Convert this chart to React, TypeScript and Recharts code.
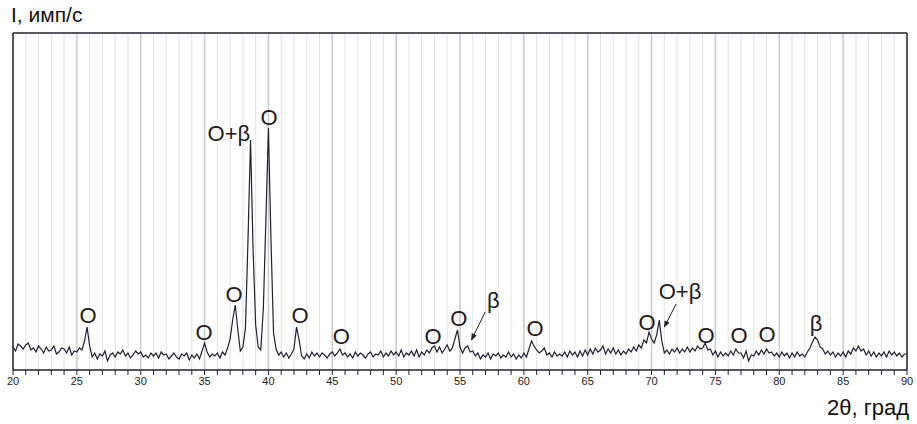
import React from 'react';
import {
  ComposedChart,
  Line,
  Scatter,
  XAxis,
  YAxis,
  CartesianGrid,
  ReferenceLine,
} from 'recharts';

// scan starts at 20° with a 0.2° step
const START_ANGLE = 20;
const STEP = 0.2;

// intensity, one row per degree (x.0, x.2, x.4, x.6, x.8)
const intensity = [
  23, 19, 26, 24, 21,
  25, 27, 20, 22, 18,
  24, 21, 17, 23, 19,
  20, 24, 16, 18, 22,
  21, 17, 23, 15, 19,
  18, 22, 20, 29, 43,
  24, 13, 17, 11, 16,
  14, 19, 9, 15, 17,
  13, 18, 16, 20, 14,
  17, 12, 15, 19, 16,
  18, 13, 15, 12, 17,
  14, 17, 12, 18, 15,
  16, 11, 14, 17, 13,
  11, 16, 14, 17, 10,
  15, 12, 16, 11, 19,
  27, 18, 13, 16, 14,
  17, 12, 18, 15, 22,
  31, 50, 65, 41, 19,
  23, 42, 130, 230, 120,
  45, 23, 20, 61, 150,
  242, 130, 37, 21, 15,
  18, 13, 17, 12, 16,
  21, 43, 30, 14, 11,
  16, 12, 18, 14, 17,
  13, 17, 15, 12, 16,
  18, 14, 17, 21, 15,
  17, 13, 16, 12, 18,
  14, 17, 15, 12, 16,
  18, 13, 16, 15, 19,
  13, 17, 14, 19, 15,
  18, 14, 20, 13, 17,
  15, 19, 14, 20, 13,
  18, 15, 20, 17, 22,
  24, 18, 23, 17, 21,
  25, 19, 22, 31, 40,
  23, 17, 22, 24, 18,
  19, 14, 17, 11, 15,
  13, 17, 11, 16, 14,
  17, 12, 15, 13, 18,
  13, 16, 11, 15, 12,
  17, 13, 21, 29, 24,
  20, 17, 19, 22, 15,
  17, 13, 18, 14, 16,
  14, 18, 13, 19, 15,
  18, 13, 19, 14, 20,
  15, 21, 16, 22, 18,
  20, 24, 16, 21, 17,
  22, 16, 20, 15, 19,
  16, 21, 18, 23, 19,
  25, 22, 30, 27, 38,
  31, 27, 35, 50, 29,
  17, 20, 16, 21, 18,
  22, 17, 21, 18, 23,
  18, 22, 19, 24, 21,
  22, 27, 20, 21, 15,
  19, 13, 18, 14, 17,
  14, 19, 15, 21, 17,
  17, 12, 19, 9, 15,
  14, 19, 15, 20, 16,
  21, 17, 18, 14, 17,
  13, 18, 14, 17, 12,
  17, 13, 18, 14, 16,
  13, 18, 22, 28, 33,
  30, 23, 21, 16, 19,
  15, 18, 13, 17, 14,
  18, 13, 19, 16, 22,
  19, 24, 19, 21, 15,
  19, 14, 18, 13, 17,
  14, 18, 13, 19, 15,
  18, 14, 17, 13, 16,
  16,
];

// phase labels: position (2θ, intensity) and text
const labelAngles = [25.87, 34.96, 37.3, 36.9, 40.05, 42.47, 45.7, 52.9, 54.9, 57.6, 60.88, 69.65, 72.23, 74.27, 76.85, 79.05, 82.88];
const labelHeights = [55, 38, 76, 237, 253, 55, 34, 34, 52, 70, 42, 48, 79, 35, 35, 36, 47];
const labelTexts = ['O', 'O', 'O', 'O+β', 'O', 'O', 'O', 'O', 'O', 'β', 'O', 'O', 'O+β', 'O', 'O', 'O', 'β'];

// arrows pointing at small reflections
const arrows = [
  { from: { x: 56.97, y: 58 }, to: { x: 55.9, y: 30 } },
  { from: { x: 71.92, y: 66 }, to: { x: 71.0, y: 43 } },
];

const xTicks = Array.from({ length: 71 }, (_, i) => 20 + i);
const majorTicks = [25, 30, 35, 40, 45, 50, 55, 60, 65, 70, 75, 80, 85];

const data = intensity.map((v, i) => ({
  angle: +(START_ANGLE + i * STEP).toFixed(1),
  counts: v,
}));

const labels = labelAngles.map((a, i) => ({ angle: a, counts: labelHeights[i], text: labelTexts[i] }));

const FONT = '"Liberation Sans", Arial, sans-serif';
const INK = '#231f35';

const PhaseLabel = (props: any) => {
  const { cx, cy, payload } = props;
  return (
    <text x={cx} y={cy} textAnchor="middle" dominantBaseline="central" fontFamily={FONT} fontSize={22} fill="#241a1a">
      {payload.text}
    </text>
  );
};

export default function App() {
  return (
    <div style={{ position: 'absolute', left: 0, top: 0, width: 917, height: 424, background: '#fff' }}>
      <svg width={0} height={0} style={{ position: 'absolute' }}>
        <defs>
          <marker id="arrowHead" viewBox="0 0 10 10" refX="9" refY="5" markerWidth="7" markerHeight="7" orient="auto">
            <path d="M0,1 L10,5 L0,9 z" fill="#222" />
          </marker>
        </defs>
      </svg>
      <div style={{ position: 'absolute', left: 11, top: 3, fontFamily: FONT, fontSize: 21, color: '#111' }}>
        I, имп/с
      </div>
      <div style={{ position: 'absolute', left: 827, top: 395, fontFamily: FONT, fontSize: 22, color: '#111' }}>
        2θ, град
      </div>
      <ComposedChart width={917} height={424} data={data} margin={{ top: 33, right: 10, bottom: 24, left: 13 }}>
        <CartesianGrid horizontal={false} stroke="#e2e2e2" strokeWidth={1} />
        {majorTicks.map((t) => (
          <ReferenceLine key={t} x={t} stroke="#cdcdcd" strokeWidth={1.5} />
        ))}
        <XAxis
          dataKey="angle"
          type="number"
          domain={[20, 90]}
          ticks={xTicks}
          interval={0}
          tickSize={5}
          tickLine={{ stroke: INK }}
          axisLine={{ stroke: INK, strokeWidth: 1.5 }}
          tickFormatter={(v: number) => (v % 5 === 0 ? String(v) : '')}
          tick={{ fontSize: 11, fill: '#222', fontFamily: FONT }}
          height={30}
        />
        <YAxis type="number" domain={[0, 337]} hide />
        <ReferenceLine y={337} stroke={INK} strokeWidth={1.5} />
        <ReferenceLine x={20} stroke={INK} strokeWidth={1.5} />
        <ReferenceLine x={90} stroke={INK} strokeWidth={1.5} />
        <Line
          type="linear"
          dataKey="counts"
          stroke={INK}
          strokeWidth={1.2}
          dot={false}
          isAnimationActive={false}
        />
        {arrows.map((a, i) => (
          <ReferenceLine
            key={'arrow' + i}
            segment={[a.from, a.to]}
            stroke="#222"
            strokeWidth={1}
            markerEnd="url(#arrowHead)"
          />
        ))}
        <Scatter data={labels} dataKey="counts" shape={<PhaseLabel />} isAnimationActive={false} />
      </ComposedChart>
    </div>
  );
}
